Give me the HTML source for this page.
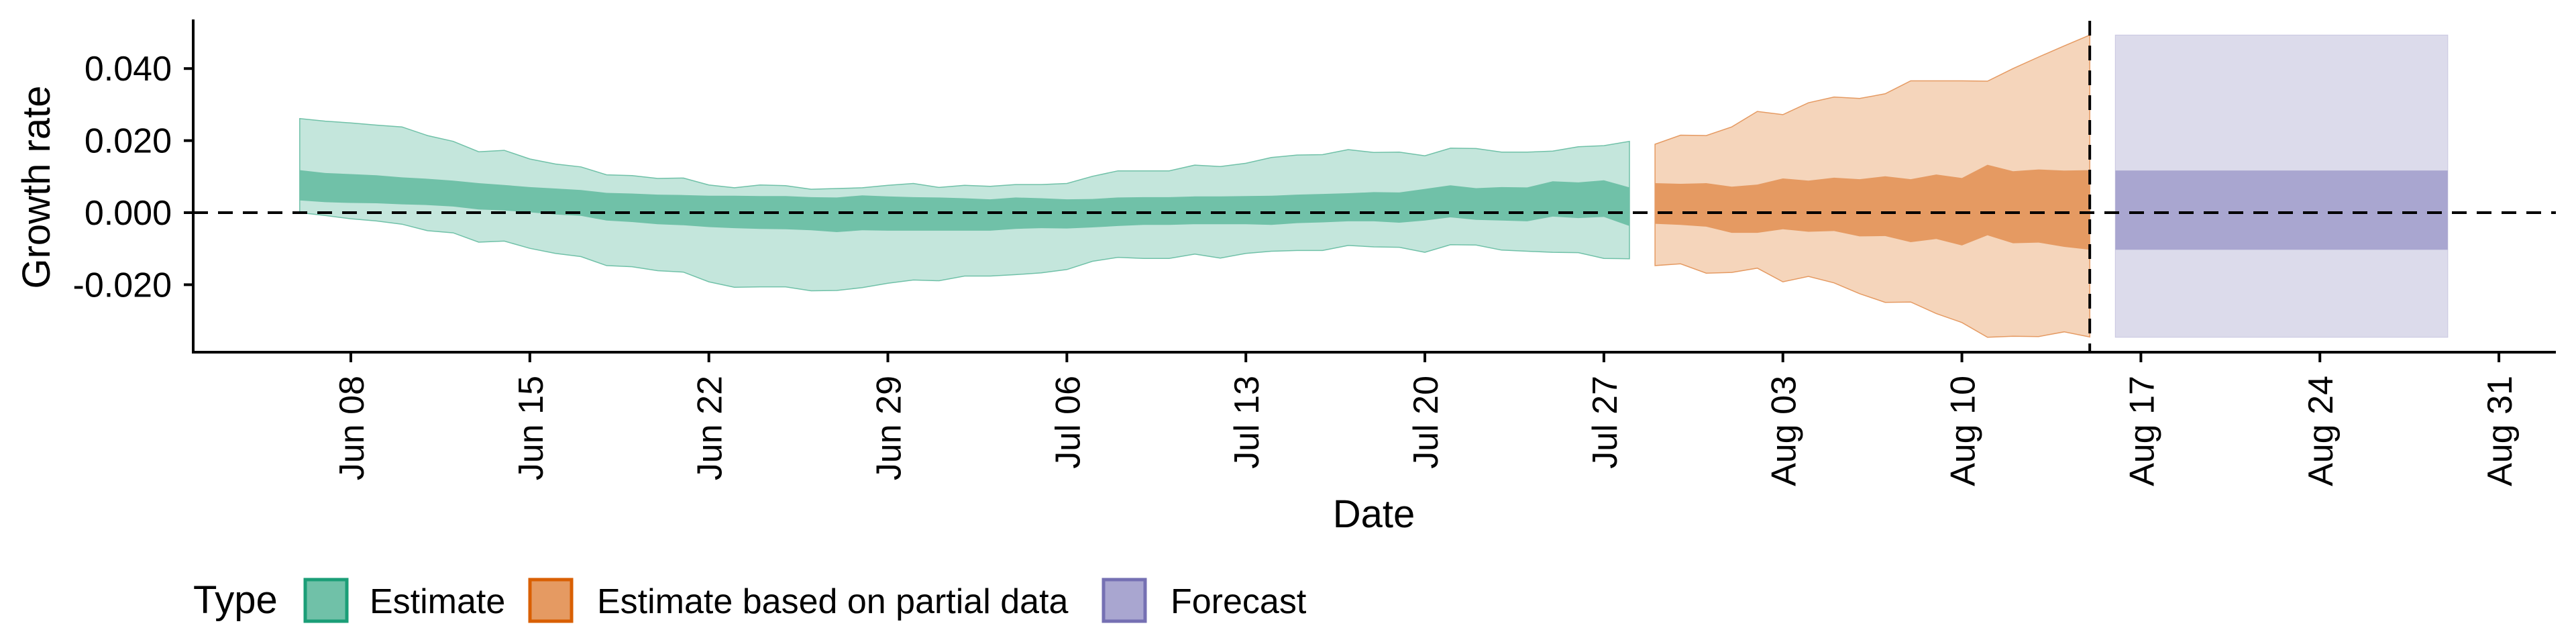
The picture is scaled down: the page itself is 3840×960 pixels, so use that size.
<!DOCTYPE html>
<html><head><meta charset="utf-8">
<style>
html,body{margin:0;padding:0;background:#fff;}
svg{display:block;font-family:"Liberation Sans",Arial,sans-serif;}
</style></head>
<body>
<svg id="chart" width="3840" height="960" viewBox="0 0 3840 960" xmlns="http://www.w3.org/2000/svg">
  <g id="bands"></g>
  <g id="axes"></g>
  <text x="0" y="0" font-size="58" text-anchor="middle" transform="translate(74,279) rotate(-90)">Growth rate</text>
  <text x="2048" y="786" font-size="58" text-anchor="middle">Date</text>
  <g>
    <text x="288" y="914" font-size="58">Type</text>
    <rect x="455" y="864" width="62" height="62" fill="#70c1a8" stroke="#1b9e77" stroke-width="5"/>
    <text x="551" y="914" font-size="52">Estimate</text>
    <rect x="790" y="864" width="62" height="62" fill="#e59a62" stroke="#d95f02" stroke-width="5"/>
    <text x="890" y="914" font-size="52">Estimate based on partial data</text>
    <rect x="1645" y="864" width="62" height="62" fill="#a9a6d0" stroke="#7570b3" stroke-width="5"/>
    <text x="1745" y="914" font-size="52">Forecast</text>
  </g>
</svg>
<script>
// Dates as day offsets from Jun 08; values in units of 0.001
const estDays0 = -2; // Jun 06
const estOuterUp = [26.1,25.4,24.9,24.3,23.8,21.4,19.8,16.9,17.3,14.9,13.5,12.7,10.5,10.3,9.5,9.6,7.7,6.9,7.7,7.5,6.5,6.7,6.9,7.6,8.1,7.0,7.6,7.3,7.8,7.8,8.1,10.1,11.6,11.6,11.6,13.2,12.8,13.7,15.3,16.0,16.1,17.5,16.7,16.8,15.8,17.9,17.8,16.8,16.8,17.1,18.3,18.6,19.8];
const estInnerUp = [11.8,11.0,10.7,10.4,9.8,9.4,8.9,8.2,7.7,7.1,6.7,6.3,5.5,5.3,5.0,4.9,4.7,4.7,4.6,4.6,4.3,4.2,4.8,4.5,4.3,4.2,4.0,3.7,4.2,4.0,3.7,3.8,4.2,4.3,4.3,4.5,4.5,4.6,4.7,5.0,5.2,5.4,5.7,5.6,6.6,7.6,6.8,7.1,7.0,8.7,8.4,9.0,7.0];
const estInnerLow = [3.4,2.9,2.7,2.6,2.3,2.1,1.7,0.9,0.6,0.1,-0.5,-0.9,-2.2,-2.6,-3.2,-3.5,-4.0,-4.3,-4.5,-4.6,-4.9,-5.4,-4.9,-5.0,-5.0,-5.0,-5.0,-5.0,-4.5,-4.3,-4.4,-4.1,-3.7,-3.4,-3.4,-3.2,-3.2,-3.2,-3.4,-2.9,-2.7,-2.4,-2.4,-2.8,-2.2,-1.3,-2.0,-2.2,-2.4,-1.1,-1.5,-1.2,-3.7];
const estOuterLow = [0,-0.8,-1.7,-2.3,-3.2,-5.0,-5.6,-8.2,-7.9,-9.9,-11.3,-12.2,-14.7,-15.0,-16.1,-16.5,-19.2,-20.7,-20.6,-20.6,-21.7,-21.6,-20.8,-19.6,-18.7,-18.9,-17.6,-17.6,-17.2,-16.7,-15.8,-13.5,-12.4,-12.7,-12.7,-11.5,-12.6,-11.3,-10.7,-10.5,-10.5,-9.1,-9.5,-9.6,-11.0,-8.9,-9.0,-10.4,-10.7,-11.0,-11.1,-12.7,-12.8];
const partDays0 = 51; // Jul 29
const partOuterUp = [19.0,21.5,21.4,23.8,28.1,27.2,30.5,32.1,31.7,33.0,36.6,36.6,36.6,36.5,40.0,43.2,46.3,49.3];
const partInnerUp = [8.2,8.0,8.2,7.2,7.8,9.5,8.9,9.7,9.3,10.1,9.3,10.6,9.6,13.3,11.5,12.0,11.7,11.8];
const partInnerLow = [-3.1,-3.4,-3.9,-5.6,-5.6,-4.6,-5.3,-5.1,-6.6,-6.5,-8.2,-7.3,-9.1,-6.3,-8.5,-8.3,-9.5,-10.3];
const partOuterLow = [-14.7,-14.2,-16.8,-16.6,-15.4,-19.2,-17.7,-19.5,-22.5,-24.9,-24.8,-28.0,-30.5,-34.6,-34.3,-34.4,-33.1,-34.5];
const fcStart = 69, fcEnd = 82; // Aug 16 .. Aug 29
const fcOuter = [49.3, -34.6];
const fcInner = [11.7, -10.3];
const vlineDay = 68; // Aug 15
const xTickDays = [0,7,14,21,28,35,42,49,56,63,70,77,84];
const xTickLabels = ["Jun 08","Jun 15","Jun 22","Jun 29","Jul 06","Jul 13","Jul 20","Jul 27","Aug 03","Aug 10","Aug 17","Aug 24","Aug 31"];
const yTicks = [-20,0,20,40];
const yTickLabels = ["-0.020","0.000","0.020","0.040"];

const NS = "http://www.w3.org/2000/svg";
const X0 = 523, PXD = 38.12;
const x = d => X0 + d * PXD;
const y = v => 317 - v * 5.37;
const AX_L = 288, AX_R = 3810, AX_T = 29, AX_B = 525;

function mk(tag, attrs, parent){ const e = document.createElementNS(NS, tag); for (const k in attrs) e.setAttribute(k, attrs[k]); parent.appendChild(e); return e; }
const bands = document.getElementById('bands');
const axes = document.getElementById('axes');

function band(d0, up, low, fill, stroke, name){
  let pts = up.map((v,i)=>x(d0+i).toFixed(1)+','+y(v).toFixed(1));
  for (let i = low.length-1; i >= 0; i--) pts.push(x(d0+i).toFixed(1)+','+y(low[i]).toFixed(1));
  const p = mk('polygon', {points: pts.join(' '), fill: fill, stroke: stroke || 'none', 'stroke-width': stroke ? 1.5 : 0}, bands);
  
  
}
band(estDays0, estOuterUp, estOuterLow, '#c4e6dc', '#70c1a8', 'estimate-outer-band');
band(estDays0, estInnerUp, estInnerLow, '#70c1a8', null, 'estimate-inner-band');
band(partDays0, partOuterUp, partOuterLow, '#f5d5bb', '#e59a62', 'partial-outer-band');
band(partDays0, partInnerUp, partInnerLow, '#e59a62', null, 'partial-inner-band');

const fo = mk('rect', {x: x(fcStart), y: y(fcOuter[0]), width: x(fcEnd)-x(fcStart), height: y(fcOuter[1])-y(fcOuter[0]), fill: '#dcdbeb', stroke: '#c8c6e0', 'stroke-width': 1}, bands);


const fi = mk('rect', {x: x(fcStart), y: y(fcInner[0]), width: x(fcEnd)-x(fcStart), height: y(fcInner[1])-y(fcInner[0]), fill: '#a9a6d0'}, bands);



const zl = mk('line', {x1: AX_L, x2: AX_R, y1: y(0), y2: y(0), stroke: '#000', 'stroke-width': 4, 'stroke-dasharray': '22 15'}, axes);


const vl = mk('line', {x1: x(vlineDay), x2: x(vlineDay), y1: AX_T+2, y2: AX_B, stroke: '#000', 'stroke-width': 4, 'stroke-dasharray': '22 15'}, axes);



const ya = mk('line', {x1: AX_L, x2: AX_L, y1: AX_T, y2: AX_B+2, stroke: '#000', 'stroke-width': 4}, axes);


const xa = mk('line', {x1: AX_L-2, x2: AX_R, y1: AX_B, y2: AX_B, stroke: '#000', 'stroke-width': 4}, axes);



yTicks.forEach((v,i)=>{
  const t = mk('line', {x1: AX_L-14, x2: AX_L, y1: y(v), y2: y(v), stroke: '#000', 'stroke-width': 4}, axes);
  
  
  const l = mk('text', {x: 256, y: y(v)+18, 'font-size': 52, 'text-anchor': 'end'}, axes);
  l.textContent = yTickLabels[i];
  
  
});
xTickDays.forEach((d,i)=>{
  const t = mk('line', {x1: x(d), x2: x(d), y1: AX_B, y2: AX_B+15, stroke: '#000', 'stroke-width': 4}, axes);
  
  
  const l = mk('text', {x: 0, y: 0, 'font-size': 52, 'text-anchor': 'end', transform: 'translate('+(x(d)+19)+',560) rotate(-90)'}, axes);
  l.textContent = xTickLabels[i];
  
  
});
</script>
</body></html>
